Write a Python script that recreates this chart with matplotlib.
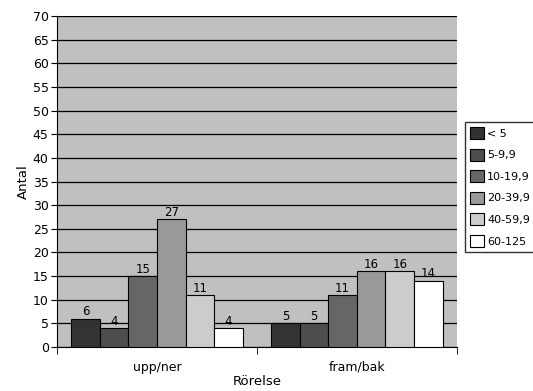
import numpy as np
import matplotlib.pyplot as plt
from matplotlib.patches import Patch

# Antal per rörelse och storleksklass
kategorier = ['upp/ner', 'fram/bak']
klasser = ['< 5', '5-9,9', '10-19,9', '20-39,9', '40-59,9', '60-125']
upp_ner = [6, 4, 15, 27, 11, 4]
fram_bak = [5, 5, 11, 16, 16, 14]
farger = ['#333333', '#4d4d4d', '#666666', '#999999', '#cccccc', '#ffffff']


def main():
    data = np.array([upp_ner, fram_bak])

    fig = plt.figure(figsize=(5.33, 3.91), dpi=100)
    ax = fig.add_axes([0.107, 0.1125, 0.75, 0.8465])
    ax.set_facecolor('#c0c0c0')

    bredd = 0.143
    x = np.arange(len(kategorier))
    for i, klass in enumerate(klasser):
        pos = x + (i - 2.5) * bredd
        staplar = ax.bar(pos, data[:, i], width=bredd, color=farger[i],
                         edgecolor='black', linewidth=0.8, zorder=3)
        for s, v in zip(staplar, data[:, i]):
            ax.text(s.get_x() + s.get_width() / 2, v + 0.1, str(v),
                    ha='center', va='bottom', fontsize=8.5, zorder=4)

    ax.set_ylim(0, 70)
    ax.set_yticks(range(0, 71, 5))
    ax.set_xlim(-0.5, 1.5)
    ax.set_xticks(x)
    ax.set_xticklabels(kategorier, fontsize=9)
    ax.tick_params(axis='x', length=0, pad=10)
    ax.set_xticks([-0.5, 0.5, 1.5], minor=True)
    ax.tick_params(axis='x', which='minor', length=5, direction='out')
    ax.tick_params(axis='y', labelsize=9, length=4, pad=2)
    ax.grid(axis='y', color='black', linewidth=0.9, zorder=1)

    for side in ['top', 'right']:
        ax.spines[side].set_visible(False)
    ax.spines['left'].set_linewidth(0.8)
    ax.spines['bottom'].set_linewidth(0.8)

    ax.set_ylabel('Antal', fontsize=9.5, labelpad=2)
    ax.set_xlabel('Rörelse', fontsize=9.5, labelpad=1)

    handtag = [Patch(facecolor=c, edgecolor='black', linewidth=0.8) for c in farger]
    fig.legend(handtag, klasser, loc='upper left',
               bbox_to_anchor=(0.872, 0.688), fontsize=8,
               frameon=True, fancybox=False, edgecolor='black',
               handlelength=1.3, handleheight=1.3, handletextpad=0.25,
               labelspacing=0.85, borderpad=0.45, borderaxespad=0)

    fig.savefig('out.png', dpi=100)


if __name__ == "__main__":
    main()
